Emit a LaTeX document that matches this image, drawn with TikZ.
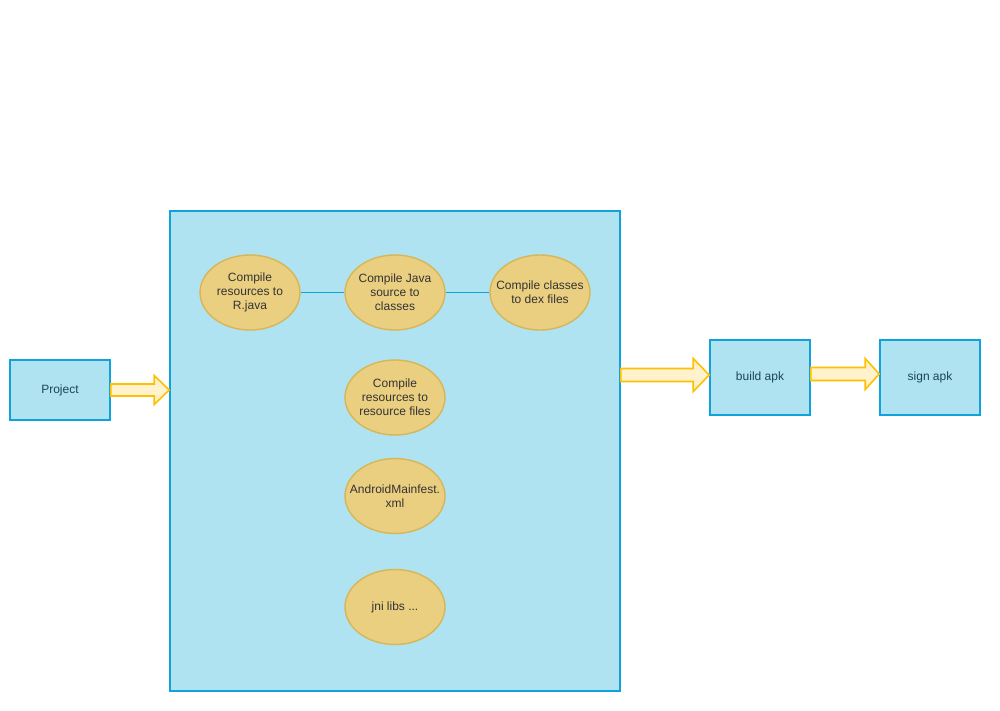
\documentclass[tikz,border=0pt]{standalone}
\usepackage{fontspec}
\setmainfont{Liberation Sans}
\usetikzlibrary{shapes.geometric,calc}
\definecolor{boxfill}{HTML}{B0E3F2}
\definecolor{boxline}{HTML}{10A2DA}
\definecolor{ovalfill}{HTML}{EACF80}
\definecolor{ovalline}{HTML}{D6B656}
\definecolor{arrfill}{HTML}{FFF2CC}
\definecolor{arrline}{HTML}{FFC000}
\definecolor{boxtext}{HTML}{1A4558}
\newcommand\hollowarrow[5]{\draw[hollow] ($#1+(0,#3)$) -- ($#2+(-#5,#3)$) -- ($#2+(-#5,#4)$) -- #2 -- ($#2+(-#5,-#4)$) -- ($#2+(-#5,-#3)$) -- ($#1+(0,-#3)$) -- cycle;}
\begin{document}
\begin{tikzpicture}[x=1pt, y=-1pt, font=\fontsize{12}{14}\selectfont, line join=miter,
    box/.style={draw=boxline, fill=boxfill, line width=1.6pt, inner sep=0pt, text=boxtext, minimum width=100pt, minimum height=#1},
    box/.default=60pt,
    oval/.style={ellipse, draw=ovalline, fill=ovalfill, line width=1.4pt, inner sep=0pt, minimum width=100pt, minimum height=75pt,
        label={[align=center, text=black!80, inner sep=0pt]center:#1}},
    link/.style={draw=boxline, line width=1.8pt},
    hollow/.style={draw=arrline, fill=arrfill, line width=1.6pt}]
    \useasboundingbox (0,0) rectangle (1000,711);
    % blocks
    \node[box] (proj) at (60,390) {Project};
    \node[box, minimum width=450pt, minimum height=480pt] (core) at (395,451) {};
    \node[box=75pt] (build) at (760,377.5) {build apk};
    \node[box=75pt] (sign) at (930,377.5) {sign apk};
    % steps inside
    \node[oval={Compile\\resources to\\R.java}] (res) at (250,292.5) {};
    \node[oval={Compile Java\\source to\\classes}] (java) at (395,292.5) {};
    \node[oval={Compile classes\\to dex files}] (dex) at (540,292.5) {};
    \node[oval={Compile\\resources to\\resource files}] (resfiles) at (395,397.5) {};
    \node[oval={AndroidMainfest.\\xml}] (manifest) at (395,496) {};
    \node[oval={jni libs ...}] (jni) at (395,607) {};
    \draw[link] (res) -- (java) -- (dex);
    % arrows
    \hollowarrow{(proj.east)}{(core.west|-proj.east)}{6}{14.5}{15}
    \hollowarrow{($(core.east|-build.west)+(0,-2.5)$)}{($(build.west)+(0,-2.5)$)}{6.5}{16.5}{16}
    \hollowarrow{($(build.east)+(0,-3.5)$)}{($(sign.west)+(0,-3.5)$)}{6.5}{15.5}{14}
\end{tikzpicture}
\end{document}
